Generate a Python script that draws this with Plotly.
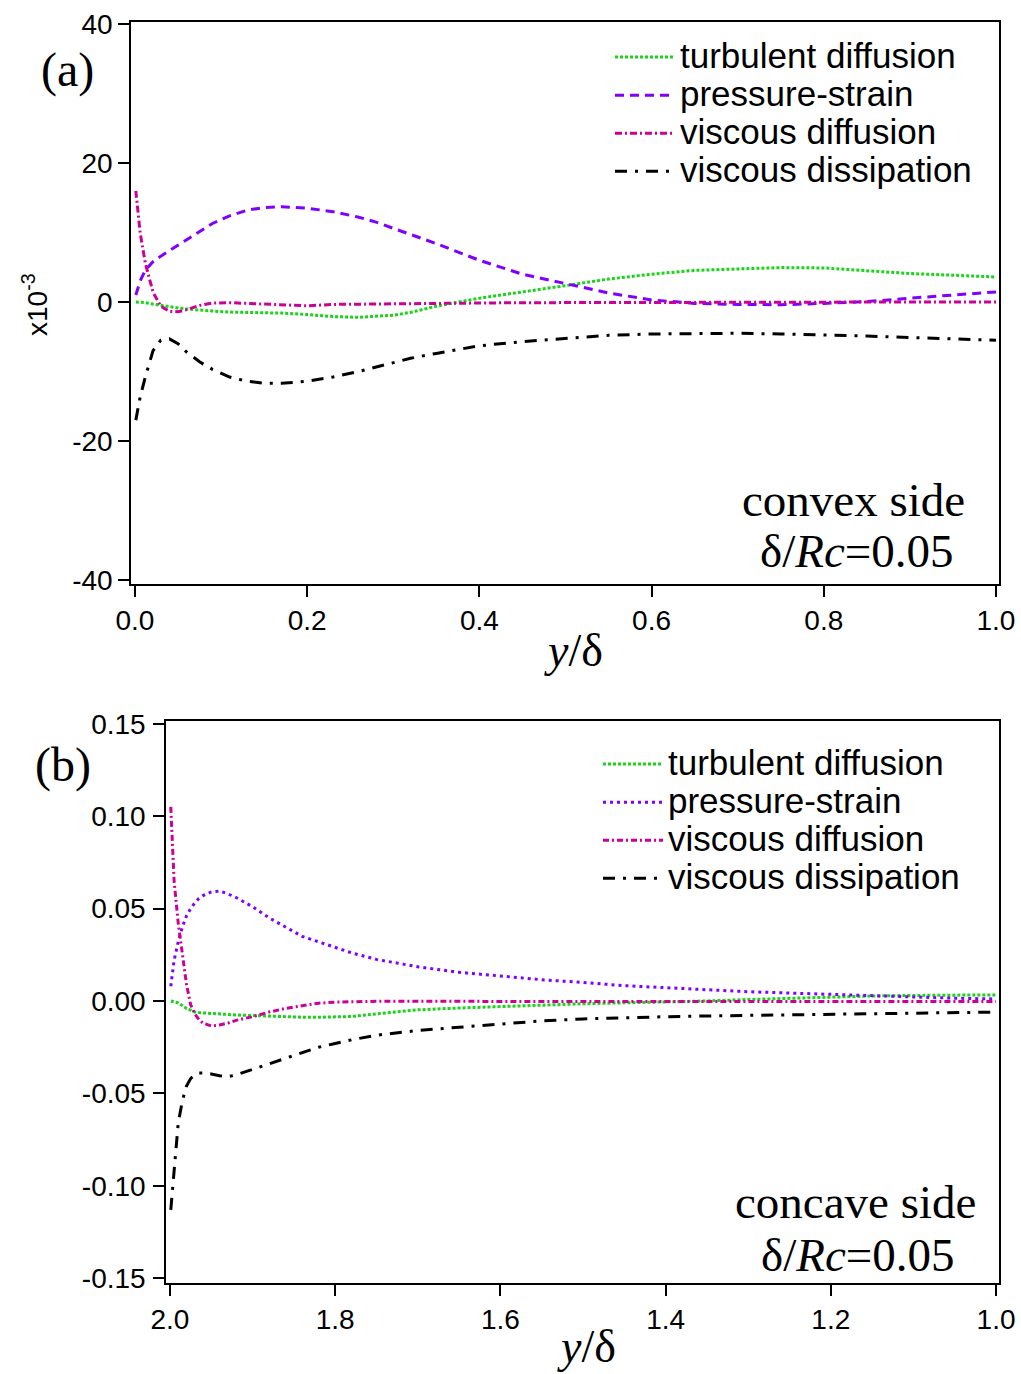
import plotly.graph_objects as go

# ---------------- Panel (a): convex side (values x10^-3) ----------------
xa = [0.001, 0.006, 0.012, 0.021, 0.03, 0.04, 0.05, 0.06, 0.075, 0.09, 0.11, 0.13,
      0.15, 0.17, 0.2, 0.23, 0.26, 0.28, 0.3, 0.32, 0.35, 0.4, 0.45, 0.5, 0.55, 0.6,
      0.65, 0.7, 0.75, 0.8, 0.85, 0.9, 0.95, 1.0]
a_turb_diff = [0.0, 0.0, -0.1, -0.3, -0.5, -0.7, -0.85, -1.0, -1.2, -1.3, -1.45, -1.5,
               -1.55, -1.6, -1.8, -2.1, -2.2, -2.1, -1.9, -1.5, -0.6, 0.55, 1.4, 2.35, 3.3, 4.0,
               4.55, 4.8, 4.95, 4.9, 4.5, 4.1, 3.85, 3.6]
a_press_strain = [1.0, 3.0, 4.6, 5.8, 6.6, 7.4, 8.2, 9.0, 10.2, 11.3, 12.4, 13.2,
                  13.6, 13.7, 13.5, 13.0, 12.2, 11.5, 10.6, 9.7, 8.4, 6.0, 4.0, 2.65, 1.3, 0.3,
                  -0.2, -0.35, -0.4, -0.2, 0.05, 0.55, 1.0, 1.45]
a_visc_diff = [16.0, 10.0, 5.6, 1.4, -0.6, -1.35, -1.4, -1.1, -0.5, -0.15, -0.1, -0.2,
               -0.35, -0.5, -0.55, -0.35, -0.3, -0.28, -0.25, -0.22, -0.2, -0.15, -0.1, -0.08, -0.06, -0.05,
               0.0, 0.0, 0.0, 0.0, 0.0, 0.0, 0.0, 0.0]
a_visc_diss = [-17.0, -13.7, -10.8, -7.0, -5.5, -5.3, -6.0, -7.2, -8.6, -9.7, -10.8, -11.4,
               -11.7, -11.7, -11.4, -10.8, -10.0, -9.4, -8.7, -8.1, -7.4, -6.3, -5.7, -5.2, -4.8, -4.6,
               -4.5, -4.5, -4.6, -4.7, -4.9, -5.1, -5.3, -5.5]
a_yticks = [-40, -20, 0, 20, 40]
a_yticklabels = ["-40", "-20", "0", "20", "40"]
a_xticks = [0.0, 0.2, 0.4, 0.6, 0.8, 1.0]
a_xticklabels = ["0.0", "0.2", "0.4", "0.6", "0.8", "1.0"]

# ---------------- Panel (b): concave side ----------------
xb = [1.999, 1.995, 1.99, 1.985, 1.98, 1.975, 1.97, 1.965, 1.96, 1.95, 1.94, 1.93, 1.92,
      1.9, 1.88, 1.86, 1.84, 1.82, 1.8, 1.78, 1.75, 1.72, 1.7, 1.65, 1.6, 1.55, 1.5, 1.45,
      1.4, 1.35, 1.3, 1.25, 1.2, 1.15, 1.1, 1.05, 1.0]
b_turb_diff = [0.0, -0.0003, -0.001, -0.0025, -0.004, -0.005, -0.006, -0.0063, -0.0065, -0.0068, -0.007, -0.0073, -0.0076,
               -0.008, -0.0084, -0.0087, -0.0088, -0.0088, -0.0087, -0.0084, -0.007, -0.0057, -0.0048, -0.0038, -0.003, -0.002, -0.0015, -0.001,
               -0.0006, 0.0, 0.0008, 0.0015, 0.0022, 0.0027, 0.003, 0.0032, 0.0033]
b_press_strain = [0.008, 0.022, 0.032, 0.040, 0.046, 0.050, 0.053, 0.0555, 0.057, 0.059, 0.0595, 0.058, 0.056,
                  0.051, 0.045, 0.040, 0.035, 0.032, 0.029, 0.026, 0.0225, 0.020, 0.0185, 0.0155, 0.0135, 0.0115, 0.010, 0.0083,
                  0.0072, 0.006, 0.005, 0.0043, 0.0035, 0.0028, 0.002, 0.0015, 0.0011]
b_visc_diff = [0.105, 0.065, 0.042, 0.024, 0.009, -0.002, -0.007, -0.010, -0.012, -0.0135, -0.013, -0.012, -0.0105,
               -0.0085, -0.006, -0.004, -0.0025, -0.0012, -0.0006, -0.0003, -0.0002, -0.0002, -0.0002, -0.0002, -0.0002, -0.0002, -0.0002, -0.0002,
               -0.0002, -0.0003, -0.0003, -0.0003, -0.0003, -0.0003, -0.0003, -0.0003, -0.0003]
b_visc_diss = [-0.113, -0.092, -0.066, -0.054, -0.046, -0.042, -0.040, -0.039, -0.039, -0.0395, -0.0405, -0.041, -0.040,
               -0.037, -0.034, -0.031, -0.028, -0.025, -0.023, -0.021, -0.0185, -0.0168, -0.016, -0.0142, -0.0123, -0.0108, -0.0097, -0.009,
               -0.0085, -0.0081, -0.0078, -0.0073, -0.007, -0.0067, -0.0064, -0.0062, -0.006]
b_yticks = [-0.15, -0.10, -0.05, 0.0, 0.05, 0.10, 0.15]
b_yticklabels = ["-0.15", "-0.10", "-0.05", "0.00", "0.05", "0.10", "0.15"]
b_xticks = [2.0, 1.8, 1.6, 1.4, 1.2, 1.0]
b_xticklabels = ["2.0", "1.8", "1.6", "1.4", "1.2", "1.0"]

names = ["turbulent diffusion", "pressure-strain", "viscous diffusion", "viscous dissipation"]

GREEN = "#19d419"
PURPLE = "#7f00ff"
PINK = "#cc0099"
BLACK = "#000000"

SANS = "Liberation Sans, Arial, sans-serif"
SERIF = "Liberation Serif, Times New Roman, serif"

LEG_TEXT = 35   # rendered size of legend labels
LEG_ROW = 27    # legend font size governing row spacing


def leg_name(n):
    return '<span style="font-size:%dpx">%s</span>' % (LEG_TEXT, n)


fig = go.Figure()

style_a = [
    (a_turb_diff, GREEN, "3px,2px"),
    (a_press_strain, PURPLE, "9px,6px"),
    (a_visc_diff, PINK, "7px,3px,2px,3px"),
    (a_visc_diss, BLACK, "12px,8px,3px,8px"),
]
for name, (vals, col, dash) in zip(names, style_a):
    fig.add_trace(go.Scatter(x=xa, y=vals, mode="lines", name=leg_name(name),
                             line=dict(color=col, width=3, dash=dash),
                             xaxis="x", yaxis="y", legend="legend"))

style_b = [
    (b_turb_diff, GREEN, "3px,2px"),
    (b_press_strain, PURPLE, "3px,4px"),
    (b_visc_diff, PINK, "6px,3px,2px,3px"),
    (b_visc_diss, BLACK, "12px,8px,3px,8px"),
]
for name, (vals, col, dash) in zip(names, style_b):
    fig.add_trace(go.Scatter(x=xb, y=vals, mode="lines", name=leg_name(name),
                             line=dict(color=col, width=3, dash=dash),
                             xaxis="x2", yaxis="y2", legend="legend2"))

W, H = 1021, 1374


def px(x):
    return x / W


def py(y):
    return 1 - y / H


axis_common = dict(showline=True, linecolor="black", linewidth=1.5, mirror=True,
                   ticks="outside", ticklen=11, tickwidth=1.5, tickcolor="black",
                   showgrid=False, zeroline=False, automargin=False)

XT = dict(family=SANS, size=28, color="black")
YT = dict(family=SANS, size=28, color="black")

fig.update_layout(
    width=W, height=H,
    margin=dict(l=0, r=0, t=0, b=0, pad=0, autoexpand=False),
    paper_bgcolor="white", plot_bgcolor="white",
    xaxis=dict(domain=[px(131), px(999)], range=[-0.0046, 1.0035], anchor="y",
               tickvals=a_xticks, ticktext=a_xticklabels, tickfont=XT,
               ticklabelstandoff=0, **axis_common),
    yaxis=dict(domain=[py(584), py(22)], range=[-40.58, 40.29], anchor="x",
               tickvals=a_yticks, ticktext=a_yticklabels, tickfont=YT,
               ticklabelstandoff=0, **axis_common),
    xaxis2=dict(domain=[px(166), px(999)], range=[2.0048, 0.9964], anchor="y2",
                tickvals=b_xticks, ticktext=b_xticklabels, tickfont=XT,
                ticklabelstandoff=0, **axis_common),
    yaxis2=dict(domain=[py(1283), py(721)], range=[-0.1526, 0.1515], anchor="x2",
                tickvals=b_yticks, ticktext=b_yticklabels, tickfont=YT,
                ticklabelstandoff=2, **axis_common),
    legend=dict(x=px(610), y=py(33), xanchor="left", yanchor="top",
                bgcolor="rgba(0,0,0,0)", font=dict(family=SANS, size=LEG_ROW, color="black"),
                itemwidth=60, tracegroupgap=0),
    legend2=dict(x=px(598), y=py(740), xanchor="left", yanchor="top",
                 bgcolor="rgba(0,0,0,0)", font=dict(family=SANS, size=LEG_ROW, color="black"),
                 itemwidth=60, tracegroupgap=0),
    showlegend=True,
)

annots = [
    dict(text="(a)", x=px(67), y=py(70), font=dict(family=SERIF, size=48)),
    dict(text="(b)", x=px(63), y=py(765), font=dict(family=SERIF, size=48)),
    dict(text="convex side", x=px(853), y=py(500), font=dict(family=SERIF, size=47)),
    dict(text="δ/<i>Rc</i>=0.05", x=px(857), y=py(551), font=dict(family=SERIF, size=47)),
    dict(text="concave side", x=px(855), y=py(1202), font=dict(family=SERIF, size=47)),
    dict(text="δ/<i>Rc</i>=0.05", x=px(858), y=py(1255), font=dict(family=SERIF, size=47)),
    dict(text="<i>y</i>/δ", x=px(573), y=py(650), font=dict(family=SERIF, size=46)),
    dict(text="<i>y</i>/δ", x=px(586), y=py(1346), font=dict(family=SERIF, size=46)),
    dict(text="x10<sup>-3</sup>", x=px(35), y=py(305), textangle=-90,
         font=dict(family=SANS, size=28)),
]
for a in annots:
    a.setdefault("textangle", 0)
    fig.add_annotation(xref="paper", yref="paper", showarrow=False,
                       xanchor="center", yanchor="middle",
                       font_color="black", **a)

fig.write_html("out.html")
